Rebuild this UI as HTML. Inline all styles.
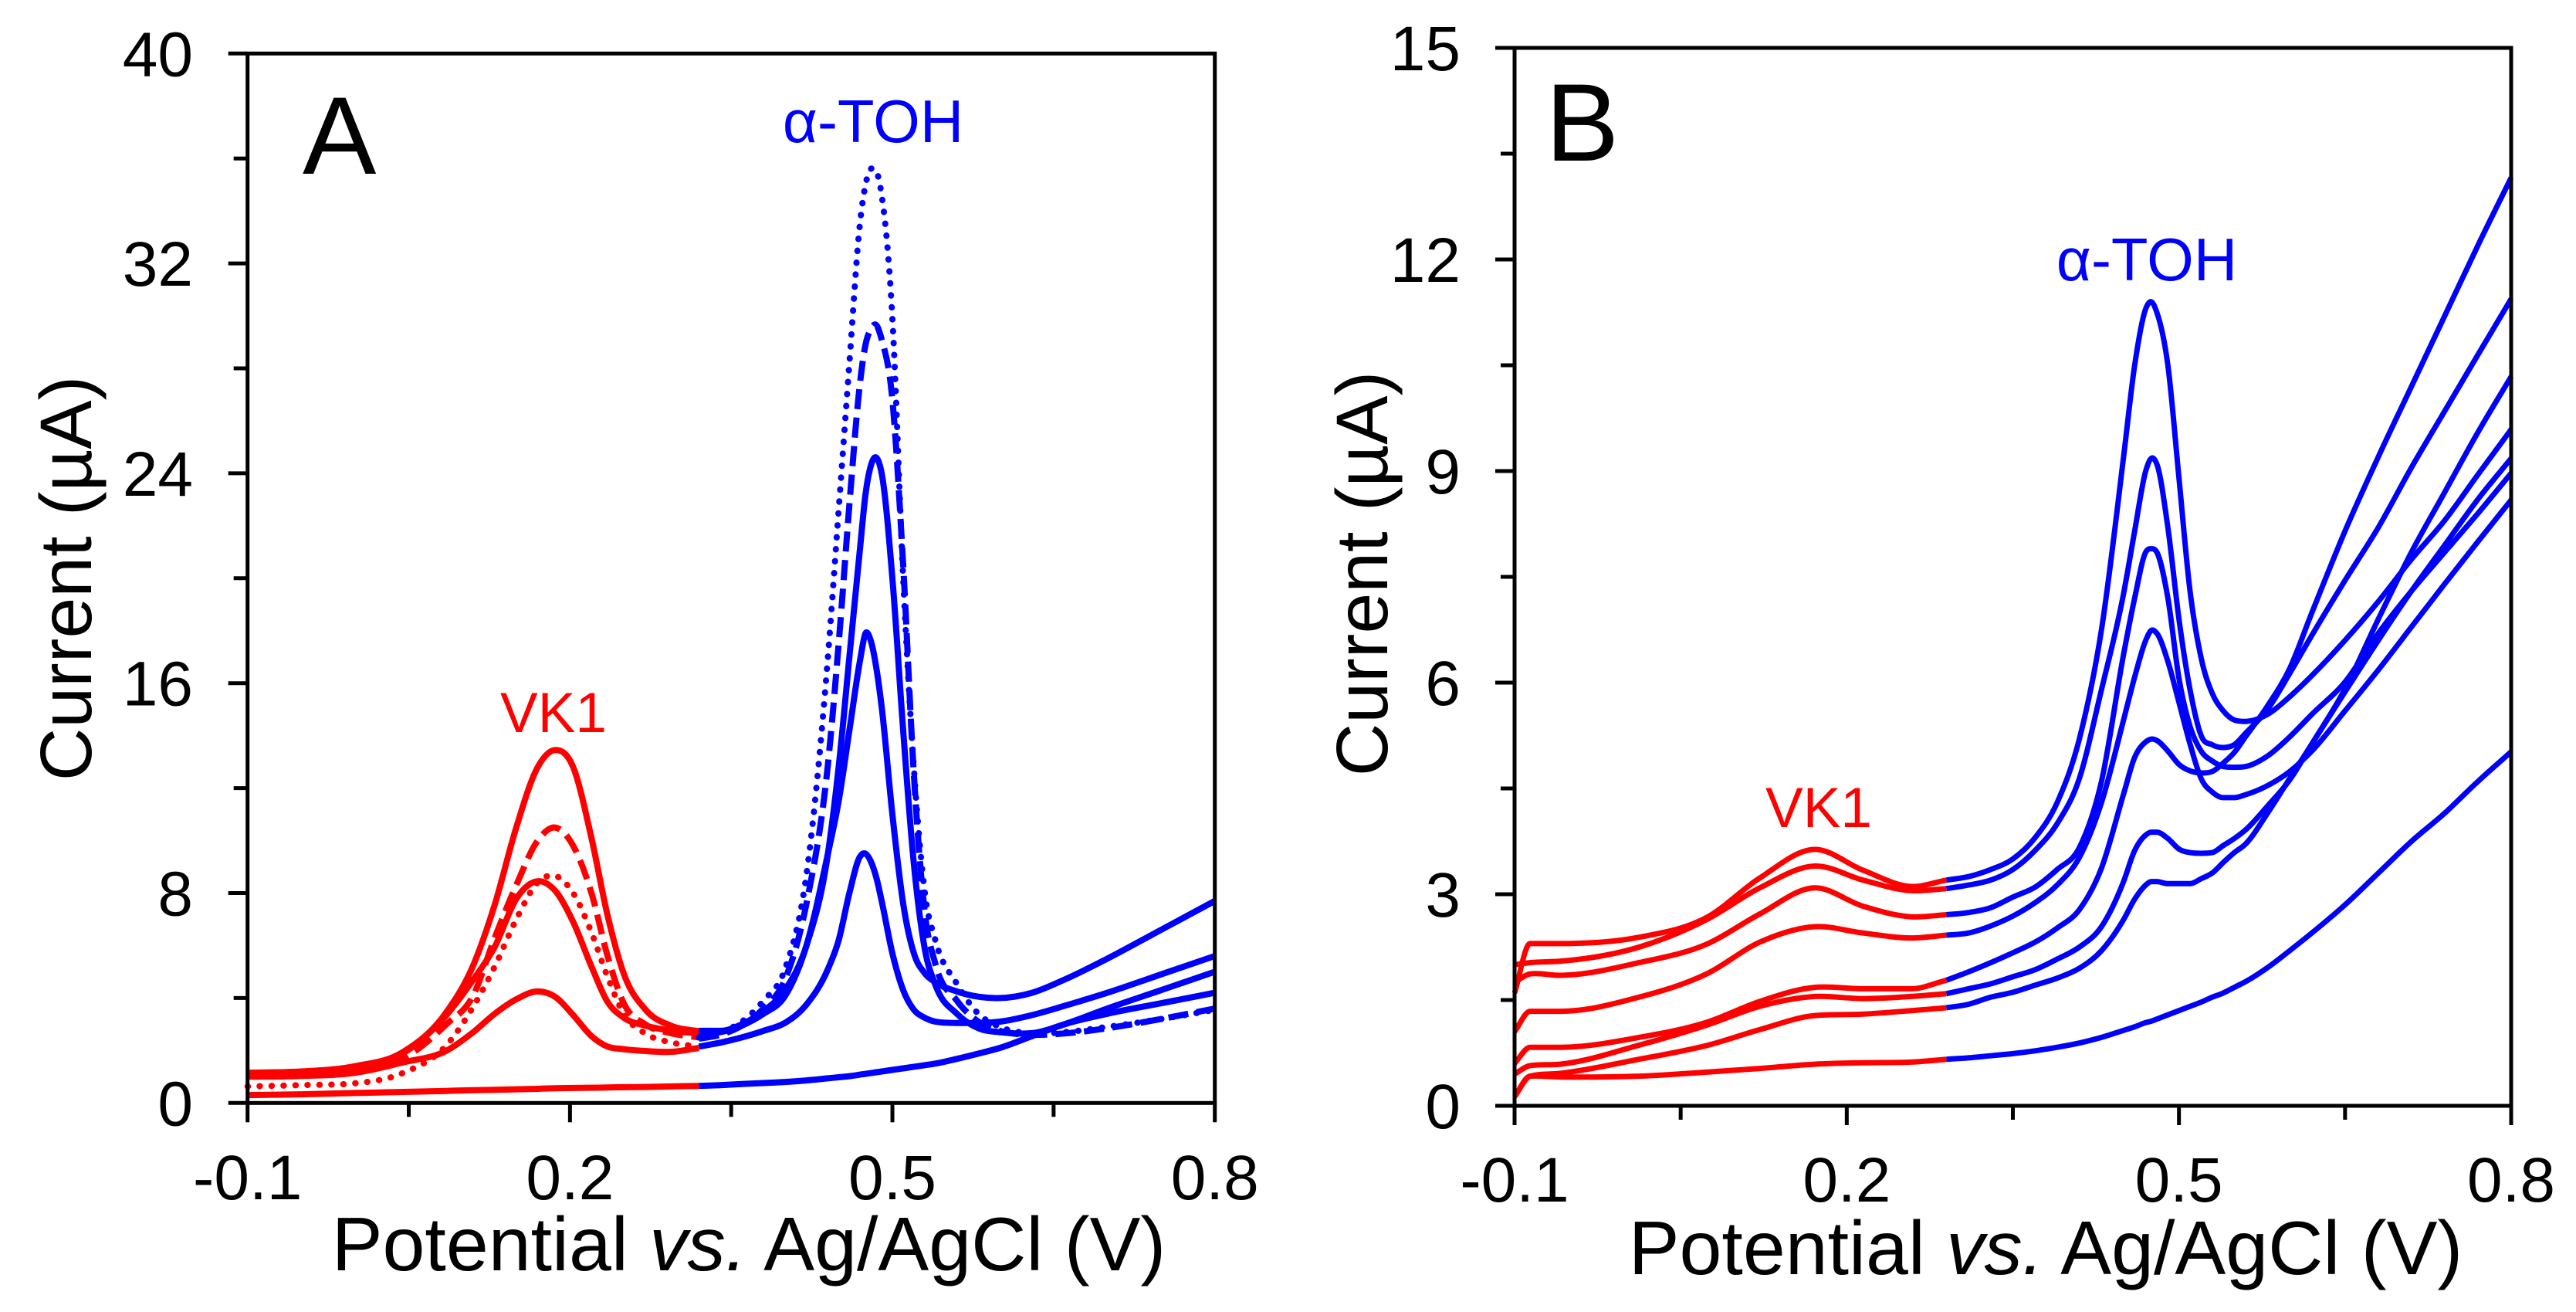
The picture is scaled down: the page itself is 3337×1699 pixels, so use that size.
<!DOCTYPE html>
<html lang="en">
<head>
<meta charset="utf-8">
<title>Voltammograms of VK1 and α-TOH</title>
<style>
html,body{margin:0;padding:0;background:#fff;}
svg{display:block;}
text{font-family:"Liberation Sans",sans-serif;}
</style>
</head>
<body>
<svg id="chart" xmlns="http://www.w3.org/2000/svg" width="3337" height="1699" viewBox="0 0 3337 1699">
  <rect width="3337" height="1699" fill="#fff"/>
  <g id="panelA">
    <text x="392" y="225" font-size="143" fill="#000">A</text>
    <text x="717" y="948" font-size="73" fill="#f00" text-anchor="middle">VK1</text>
    <text x="1131" y="184" font-size="78" fill="#00f" text-anchor="middle">α-TOH</text>
    <text x="970" y="1645" font-size="98.7" fill="#000" text-anchor="middle">Potential <tspan font-style="italic">vs.</tspan> Ag/AgCl (V)</text>
    <text transform="translate(118 749) rotate(-90)" font-size="95" fill="#000" text-anchor="middle">Current (µA)</text>
  </g>
  <g id="panelB">
    <text x="2002" y="208" font-size="143" fill="#000">B</text>
    <text x="2356" y="1071" font-size="73" fill="#f00" text-anchor="middle">VK1</text>
    <text x="2781" y="363" font-size="78" fill="#00f" text-anchor="middle">α-TOH</text>
    <text x="2650" y="1650" font-size="98.7" fill="#000" text-anchor="middle">Potential <tspan font-style="italic">vs.</tspan> Ag/AgCl (V)</text>
    <text transform="translate(1797 743) rotate(-90)" font-size="95" fill="#000" text-anchor="middle">Current (µA)</text>
  </g>
</svg>
<script>
// ---------- shared x-axis data ----------
const xMajorTicks = [-0.1, 0.2, 0.5, 0.8];
const xMinorTicks = [0.05, 0.35, 0.65];
const xTickLabels = ['-0.1', '0.2', '0.5', '0.8'];

// ---------- panel A data ----------
const aYMajorTicks = [0, 8, 16, 24, 32, 40];
const aYMinorTicks = [4, 12, 20, 28, 36];
const aYTickLabels = ['0', '8', '16', '24', '32', '40'];
const aRedX = [-0.1,-0.05,0,0.045,0.085,0.11,0.13,0.15,0.17,0.186,0.203,0.22,0.235,0.25,0.27,0.295,0.32];
const aBlueX = [0.32,0.34,0.36,0.38,0.40,0.42,0.44,0.45,0.46,0.47,0.475,0.48,0.485,0.49,0.50,0.51,0.52,0.53,0.54,0.56,0.58,0.60,0.63,0.66,0.70,0.75,0.80];
const aBlankRed = [0.3,0.33,0.38,0.42,0.46,0.49,0.5,0.52,0.54,0.56,0.57,0.58,0.59,0.6,0.61,0.63,0.65];
const aBlankBlue = [0.65,0.68,0.72,0.76,0.8,0.86,0.94,0.98,1.02,1.08,1.11,1.14,1.17,1.2,1.26,1.32,1.38,1.44,1.5,1.68,1.88,2.1,2.55,3.0,3.4,3.8,4.2];
const aLowRed = [1.0,1.03,1.15,1.55,1.99,2.7,3.4,3.95,4.25,4.05,3.35,2.55,2.15,2.05,1.98,1.95,2.1];
const aLowBlue = [2.15,2.3,2.5,2.75,3.05,3.75,5.1,6.2,8.0,9.4,9.5,9.2,8.6,7.7,5.7,4.3,3.55,3.25,3.1,3.05,3.05,3.1,3.35,3.7,4.2,4.9,5.6];
const aMidRed = [1.05,1.1,1.3,1.9,3.35,4.7,5.95,7.78,8.45,8.1,6.9,5.2,3.85,3.25,2.95,2.75,2.65];
const aMidBlue = [2.65,2.7,2.95,3.4,4.07,6.0,9.5,11.5,14.2,16.9,17.9,17.6,16.6,15.1,11.0,7.6,5.7,4.95,4.6,4.25,4.05,4.0,4.2,4.7,5.5,6.6,7.7];
const aHighRed = [1.15,1.2,1.4,1.95,3.46,5.25,7.56,10.5,12.8,13.45,12.8,10.1,7.14,4.93,3.57,2.93,2.73];
const aHighBlue = [2.75,2.75,3.0,3.5,4.3,6.0,9.5,12.8,17,21.2,23.2,24.3,24.6,24.0,20,14.2,9.1,5.9,4.5,3.4,2.85,2.7,2.66,3.0,3.6,4.3,5.0];
const aDashRed = [1.05,1.1,1.25,1.7,3.0,4.1,6.3,8.3,10.0,10.5,9.8,8.0,5.6,3.8,3.0,2.65,2.5];
const aDashBlue = [2.45,2.6,2.95,3.6,4.7,7.6,12.9,17.5,22.8,27.5,28.9,29.5,29.65,29.1,26.8,20.5,12.5,7.3,5.3,3.9,3.1,2.75,2.6,2.65,2.85,3.2,3.6];
const aDotRed = [0.63,0.68,0.75,1.15,2.2,3.67,5.2,7.0,8.4,8.66,8.0,6.5,4.8,3.4,2.65,2.3,2.15];
const aDotBlue = [2.5,2.7,3.1,3.9,5.1,8.7,17.0,22.6,28.2,33.6,35.0,35.6,35.5,34.6,29.9,20,12.75,8.07,6.2,4.54,3.4,2.9,2.65,2.7,2.9,3.2,3.55];

// ---------- panel B data ----------
const bYMajorTicks = [0, 3, 6, 9, 12, 15];
const bYMinorTicks = [1.5, 4.5, 7.5, 10.5, 13.5];
const bYTickLabels = ['0', '3', '6', '9', '12', '15'];
const bRedX = [-0.1,-0.086,-0.059,0.0124,0.0746,0.1214,0.1711,0.2147,0.2583,0.29];
const bBlueX = [0.29,0.31,0.33,0.35,0.37,0.39,0.41,0.43,0.45,0.46,0.47,0.475,0.48,0.49,0.50,0.51,0.52,0.53,0.54,0.55,0.56,0.58,0.60,0.62,0.65,0.68,0.71,0.74,0.77,0.80];
const bBlankRed = [0.13,0.42,0.41,0.42,0.48,0.53,0.59,0.61,0.62,0.66];
const bBlankBlue = [0.66,0.68,0.71,0.74,0.78,0.83,0.89,0.97,1.07,1.12,1.18,1.2,1.23,1.29,1.35,1.41,1.47,1.54,1.6,1.68,1.76,1.96,2.2,2.45,2.85,3.3,3.75,4.15,4.6,5.02];
const bLevel1Red = [0.13,0.42,0.46,0.66,0.86,1.08,1.28,1.30,1.35,1.39];
const bLevel1Blue = [1.39,1.44,1.54,1.61,1.71,1.81,1.95,2.2,2.64,2.93,3.13,3.18,3.18,3.15,3.15,3.15,3.22,3.3,3.45,3.59,3.71,4.15,4.64,5.13,5.87,6.6,7.3,7.95,8.6,9.18];
const bLevel2Red = [0.45,0.57,0.59,0.86,1.15,1.41,1.55,1.52,1.55,1.59];
const bLevel2Blue = [1.59,1.66,1.73,1.83,1.93,2.08,2.25,2.54,3.18,3.62,3.84,3.88,3.88,3.79,3.64,3.59,3.58,3.59,3.69,3.79,3.91,4.25,4.62,5.13,5.91,6.9,7.85,8.7,9.55,10.34];
const bLevel3Red = [0.6,0.83,0.83,0.97,1.19,1.48,1.68,1.66,1.66,1.78];
const bLevel3Blue = [1.78,1.9,2.03,2.17,2.32,2.52,2.78,3.37,4.42,4.94,5.16,5.2,5.18,5.03,4.84,4.75,4.72,4.74,4.86,5.01,5.23,5.67,6.2,6.99,8.15,9.2,10.2,11.2,12.2,13.16];
const bLevel4Red = [1.05,1.34,1.34,1.54,1.88,2.32,2.54,2.45,2.38,2.42];
const bLevel4Blue = [2.42,2.45,2.55,2.69,2.88,3.13,3.52,4.3,5.47,6.08,6.6,6.74,6.7,6.3,5.72,5.13,4.64,4.45,4.37,4.37,4.41,4.54,4.74,5.03,5.6,6.18,6.79,7.4,8.0,8.59];
const bLevel5Red = [1.75,1.87,1.85,2.03,2.3,2.72,3.09,2.83,2.68,2.71];
const bLevel5Blue = [2.71,2.74,2.81,2.96,3.1,3.35,3.66,4.6,6.4,7.2,7.85,7.9,7.85,7.2,6.06,5.38,5.03,4.89,4.81,4.8,4.81,4.96,5.23,5.55,6.01,6.7,7.3,7.85,8.4,8.97];
const bLevel6Red = [2.0,2.03,2.05,2.25,2.65,3.09,3.4,3.2,3.05,3.08];
const bLevel6Blue = [3.08,3.13,3.2,3.35,3.62,4.0,4.64,5.9,7.26,8.15,9.0,9.18,9.1,8.2,6.9,5.9,5.25,5.12,5.08,5.12,5.28,5.62,6.13,6.67,7.45,8.2,9.05,9.85,10.65,11.44];
const bLevel7Red = [1.6,2.3,2.3,2.39,2.68,3.23,3.635,3.34,3.11,3.2];
const bLevel7Blue = [3.2,3.25,3.35,3.5,3.8,4.3,5.2,6.75,9.2,10.5,11.3,11.4,11.25,10.5,8.9,7.3,6.35,5.85,5.6,5.47,5.45,5.55,5.8,6.1,6.6,7.15,7.75,8.3,8.95,9.59];

const SVG_NS = 'http://www.w3.org/2000/svg';

function smoothPath(xs, ys) {
  const n = xs.length;
  const d = [], m = [];
  for (let i = 0; i < n - 1; i++) d.push((ys[i + 1] - ys[i]) / (xs[i + 1] - xs[i]));
  m[0] = d[0];
  m[n - 1] = d[n - 2];
  for (let i = 1; i < n - 1; i++) {
    const h0 = xs[i] - xs[i - 1], h1 = xs[i + 1] - xs[i];
    const p = (d[i - 1] * h1 + d[i] * h0) / (h0 + h1);
    const lim = 3 * Math.min(Math.abs(d[i - 1]), Math.abs(d[i]));
    m[i] = Math.max(-lim, Math.min(lim, p));
  }
  let path = 'M' + xs[0].toFixed(1) + ' ' + ys[0].toFixed(1);
  for (let i = 0; i < n - 1; i++) {
    const h = (xs[i + 1] - xs[i]) / 3;
    path += 'C' + (xs[i] + h).toFixed(1) + ' ' + (ys[i] + m[i] * h).toFixed(1) + ' ' +
      (xs[i + 1] - h).toFixed(1) + ' ' + (ys[i + 1] - m[i + 1] * h).toFixed(1) + ' ' +
      xs[i + 1].toFixed(1) + ' ' + ys[i + 1].toFixed(1);
  }
  return path;
}

function drawCurve(parent, scaleX, scaleY, xValues, yValues, color, width, style, label) {
  const el = document.createElementNS(SVG_NS, 'path');
  
  
  el.setAttribute('d', smoothPath(xValues.map(scaleX), yValues.map(scaleY)));
  el.setAttribute('fill', 'none');
  el.setAttribute('stroke', color);
  el.setAttribute('stroke-width', width);
  el.setAttribute('stroke-linejoin', 'round');
  if (style === 'dash') {
    el.setAttribute('stroke-dasharray', '26 11');
  } else if (style === 'dot') {
    el.setAttribute('stroke-dasharray', '0.5 15');
    el.setAttribute('stroke-linecap', 'round');
  }
  parent.appendChild(el);
}

function drawTick(parent, x1, y1, x2, y2, label) {
  const el = document.createElementNS(SVG_NS, 'line');
  
  
  el.setAttribute('x1', x1);
  el.setAttribute('y1', y1);
  el.setAttribute('x2', x2);
  el.setAttribute('y2', y2);
  el.setAttribute('stroke', '#000');
  el.setAttribute('stroke-width', 5);
  parent.appendChild(el);
}

function drawLabel(parent, x, y, content, anchor, label) {
  const el = document.createElementNS(SVG_NS, 'text');
  
  
  el.setAttribute('x', x);
  el.setAttribute('y', y);
  el.setAttribute('font-size', 82);
  el.setAttribute('fill', '#000');
  el.setAttribute('text-anchor', anchor);
  el.textContent = content;
  parent.appendChild(el);
}

function drawAxes(parent, sx, sy, L, R, T, B, yMajor, yMinor, yLabels, labelX, labelY) {
  const frame = document.createElementNS(SVG_NS, 'rect');
  
  
  frame.setAttribute('x', L);
  frame.setAttribute('y', T);
  frame.setAttribute('width', R - L);
  frame.setAttribute('height', B - T);
  frame.setAttribute('fill', 'none');
  frame.setAttribute('stroke', '#000');
  frame.setAttribute('stroke-width', 5);
  parent.appendChild(frame);
  xMajorTicks.forEach((v, i) => {
    drawTick(parent, sx(v), B, sx(v), B + 25, 'x-major-tick');
    drawLabel(parent, sx(v), labelY, xTickLabels[i], 'middle', 'x-tick-label');
  });
  xMinorTicks.forEach(v => drawTick(parent, sx(v), B, sx(v), B + 18, 'x-minor-tick'));
  yMajor.forEach((v, i) => {
    drawTick(parent, L - 25, sy(v), L, sy(v), 'y-major-tick');
    drawLabel(parent, labelX, sy(v) + 29, yLabels[i], 'end', 'y-tick-label');
  });
  yMinor.forEach(v => drawTick(parent, L - 18, sy(v), L, sy(v), 'y-minor-tick'));
}

// ---------- panel A ----------
const aG = document.getElementById('panelA');
const aL = 320.7, aR = 1573.7, aT = 69.3, aB = 1428.3;
const aX = v => aL + (v + 0.1) / 0.9 * (aR - aL);
const aY = v => aB - v / 40 * (aB - aT);
drawCurve(aG, aX, aY, aRedX, aBlankRed, '#f00', 8, 'solid', 'a-blank-vk1-curve');
drawCurve(aG, aX, aY, aRedX, aLowRed, '#f00', 8, 'solid', 'a-low-vk1-curve');
drawCurve(aG, aX, aY, aRedX, aMidRed, '#f00', 8, 'solid', 'a-mid-vk1-curve');
drawCurve(aG, aX, aY, aRedX, aHighRed, '#f00', 8, 'solid', 'a-high-vk1-curve');
drawCurve(aG, aX, aY, aRedX, aDashRed, '#f00', 8, 'dash', 'a-dashed-vk1-curve');
drawCurve(aG, aX, aY, aRedX, aDotRed, '#f00', 8, 'dot', 'a-dotted-vk1-curve');
drawCurve(aG, aX, aY, aBlueX, aBlankBlue, '#00f', 8, 'solid', 'a-blank-toh-curve');
drawCurve(aG, aX, aY, aBlueX, aLowBlue, '#00f', 8, 'solid', 'a-low-toh-curve');
drawCurve(aG, aX, aY, aBlueX, aMidBlue, '#00f', 8, 'solid', 'a-mid-toh-curve');
drawCurve(aG, aX, aY, aBlueX, aHighBlue, '#00f', 8, 'solid', 'a-high-toh-curve');
drawCurve(aG, aX, aY, aBlueX, aDashBlue, '#00f', 8, 'dash', 'a-dashed-toh-curve');
drawCurve(aG, aX, aY, aBlueX, aDotBlue, '#00f', 8, 'dot', 'a-dotted-toh-curve');
drawAxes(aG, aX, aY, aL, aR, aT, aB, aYMajorTicks, aYMinorTicks, aYTickLabels, 250, 1553);

// ---------- panel B ----------
const bG = document.getElementById('panelB');
const bL = 1962, bR = 3253, bT = 62, bB = 1432;
const bX = v => bL + (v + 0.1) / 0.9 * (bR - bL);
const bY = v => bB - v / 15 * (bB - bT);
drawCurve(bG, bX, bY, bRedX, bBlankRed, '#f00', 7, 'solid', 'b-blank-vk1-curve');
drawCurve(bG, bX, bY, bRedX, bLevel1Red, '#f00', 7, 'solid', 'b-level-1-vk1-curve');
drawCurve(bG, bX, bY, bRedX, bLevel2Red, '#f00', 7, 'solid', 'b-level-2-vk1-curve');
drawCurve(bG, bX, bY, bRedX, bLevel3Red, '#f00', 7, 'solid', 'b-level-3-vk1-curve');
drawCurve(bG, bX, bY, bRedX, bLevel4Red, '#f00', 7, 'solid', 'b-level-4-vk1-curve');
drawCurve(bG, bX, bY, bRedX, bLevel5Red, '#f00', 7, 'solid', 'b-level-5-vk1-curve');
drawCurve(bG, bX, bY, bRedX, bLevel6Red, '#f00', 7, 'solid', 'b-level-6-vk1-curve');
drawCurve(bG, bX, bY, bRedX, bLevel7Red, '#f00', 7, 'solid', 'b-level-7-vk1-curve');
drawCurve(bG, bX, bY, bBlueX, bBlankBlue, '#00f', 7, 'solid', 'b-blank-toh-curve');
drawCurve(bG, bX, bY, bBlueX, bLevel1Blue, '#00f', 7, 'solid', 'b-level-1-toh-curve');
drawCurve(bG, bX, bY, bBlueX, bLevel2Blue, '#00f', 7, 'solid', 'b-level-2-toh-curve');
drawCurve(bG, bX, bY, bBlueX, bLevel3Blue, '#00f', 7, 'solid', 'b-level-3-toh-curve');
drawCurve(bG, bX, bY, bBlueX, bLevel4Blue, '#00f', 7, 'solid', 'b-level-4-toh-curve');
drawCurve(bG, bX, bY, bBlueX, bLevel5Blue, '#00f', 7, 'solid', 'b-level-5-toh-curve');
drawCurve(bG, bX, bY, bBlueX, bLevel6Blue, '#00f', 7, 'solid', 'b-level-6-toh-curve');
drawCurve(bG, bX, bY, bBlueX, bLevel7Blue, '#00f', 7, 'solid', 'b-level-7-toh-curve');
drawAxes(bG, bX, bY, bL, bR, bT, bB, bYMajorTicks, bYMinorTicks, bYTickLabels, 1892, 1556);
</script>
</body>
</html>
